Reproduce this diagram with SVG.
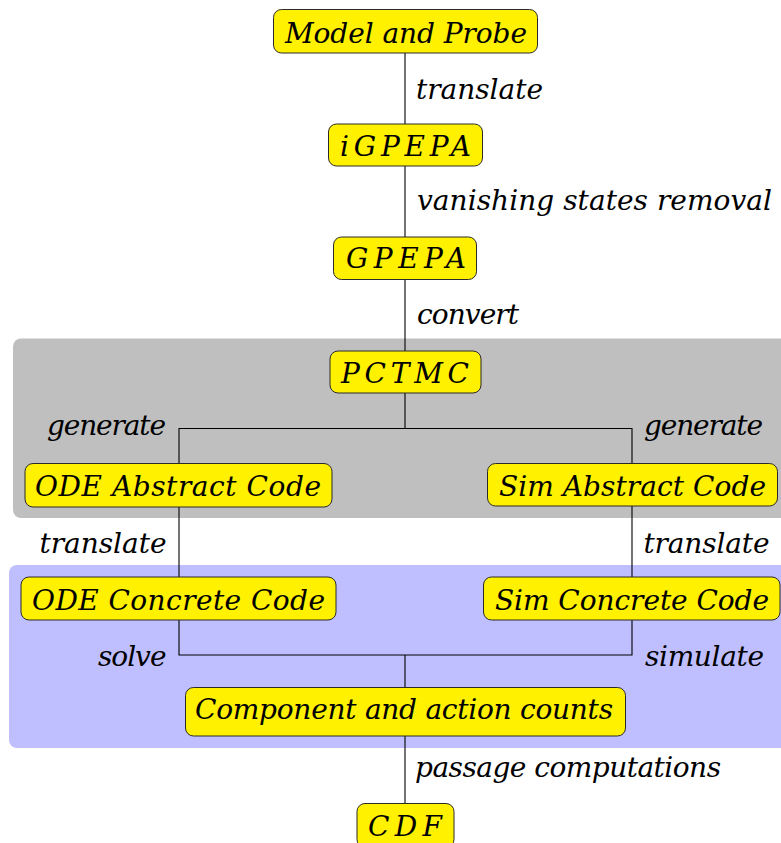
<svg xmlns="http://www.w3.org/2000/svg" width="781" height="843" viewBox="0 0 781 843">
  <style>
    .region-gray { fill: #bfbfbf; }
    .region-blue { fill: #bfbfff; }
    .box { fill: #fff100; stroke: #2a2a2a; stroke-width: 1; }
    .wire { fill: none; stroke: #000; stroke-width: 1.1; }
    .t { font-family: 'DejaVu Serif', 'Liberation Serif', serif; font-style: italic; font-size: 28px; fill: #000; }
  </style>

  <!-- background stages -->
  <rect class="region-gray" x="13" y="338.5" width="800" height="179.5" rx="8"/>
  <rect class="region-blue" x="9" y="565" width="804" height="183" rx="8"/>

  <!-- connectors -->
  <g id="connectors">
    <line class="wire" x1="405" y1="53" x2="405" y2="124"/>
    <line class="wire" x1="405" y1="166" x2="405" y2="237"/>
    <line class="wire" x1="405" y1="279" x2="405" y2="351"/>
    <path class="wire" d="M405,393 V428.5 M179,463 V428.5 H632 V464"/>
    <line class="wire" x1="179" y1="507" x2="179" y2="577"/>
    <line class="wire" x1="632" y1="506" x2="632" y2="577"/>
    <path class="wire" d="M179,620 V655 H632 V620 M405,655 V687.5"/>
    <line class="wire" x1="405" y1="736" x2="405" y2="803.5"/>
    <!-- edge labels -->
    <text class="t" x="416" y="99" textLength="127" lengthAdjust="spacing">translate</text>
    <text class="t" x="417" y="210" textLength="355" lengthAdjust="spacing">vanishing states removal</text>
    <text class="t" x="417" y="324" textLength="102" lengthAdjust="spacing">convert</text>
    <text class="t" x="47" y="435" textLength="119" lengthAdjust="spacing">generate</text>
    <text class="t" x="644" y="435" textLength="119" lengthAdjust="spacing">generate</text>
    <text class="t" x="39.5" y="553" textLength="127" lengthAdjust="spacing">translate</text>
    <text class="t" x="643.5" y="553" textLength="126" lengthAdjust="spacing">translate</text>
    <text class="t" x="98" y="666" textLength="68.5" lengthAdjust="spacing">solve</text>
    <text class="t" x="645" y="666" textLength="119" lengthAdjust="spacing">simulate</text>
    <text class="t" x="415" y="777" textLength="306" lengthAdjust="spacing">passage computations</text>
  </g>

  <g id="model-and-probe">
    <rect class="box" x="273.5" y="9.5" width="264" height="43.5" rx="8"/>
    <text class="t" x="285" y="43" textLength="242" lengthAdjust="spacing">Model and Probe</text>
  </g>
  <g id="igpepa">
    <rect class="box" x="328.5" y="124" width="154" height="42" rx="8"/>
    <text class="t" x="340" y="156" textLength="131" lengthAdjust="spacing">iGPEPA</text>
  </g>
  <g id="gpepa">
    <rect class="box" x="333.5" y="237" width="143" height="42.5" rx="8"/>
    <text class="t" x="346" y="268" textLength="120" lengthAdjust="spacing">GPEPA</text>
  </g>
  <g id="pctmc">
    <rect class="box" x="330" y="351" width="151" height="42" rx="8"/>
    <text class="t" x="341" y="383" textLength="128" lengthAdjust="spacing">PCTMC</text>
  </g>
  <g id="ode-abstract-code">
    <rect class="box" x="25" y="463.5" width="307" height="43.5" rx="8"/>
    <text class="t" x="35" y="496" textLength="286" lengthAdjust="spacing">ODE Abstract Code</text>
  </g>
  <g id="sim-abstract-code">
    <rect class="box" x="487.5" y="463.5" width="290" height="42.5" rx="8"/>
    <text class="t" x="499" y="496" textLength="267" lengthAdjust="spacing">Sim Abstract Code</text>
  </g>
  <g id="ode-concrete-code">
    <rect class="box" x="21" y="577" width="315" height="43" rx="8"/>
    <text class="t" x="32" y="610" textLength="293" lengthAdjust="spacing">ODE Concrete Code</text>
  </g>
  <g id="sim-concrete-code">
    <rect class="box" x="483.5" y="577" width="296.5" height="43" rx="8"/>
    <text class="t" x="495" y="610" textLength="274" lengthAdjust="spacing">Sim Concrete Code</text>
  </g>
  <g id="component-and-action-counts">
    <rect class="box" x="185.5" y="687.5" width="440" height="48.5" rx="8"/>
    <text class="t" x="195" y="719" textLength="418" lengthAdjust="spacing">Component and action counts</text>
  </g>
  <g id="cdf">
    <rect class="box" x="357" y="803.5" width="97" height="44" rx="8"/>
    <text class="t" x="368" y="836" textLength="74" lengthAdjust="spacing">CDF</text>
  </g>
</svg>
